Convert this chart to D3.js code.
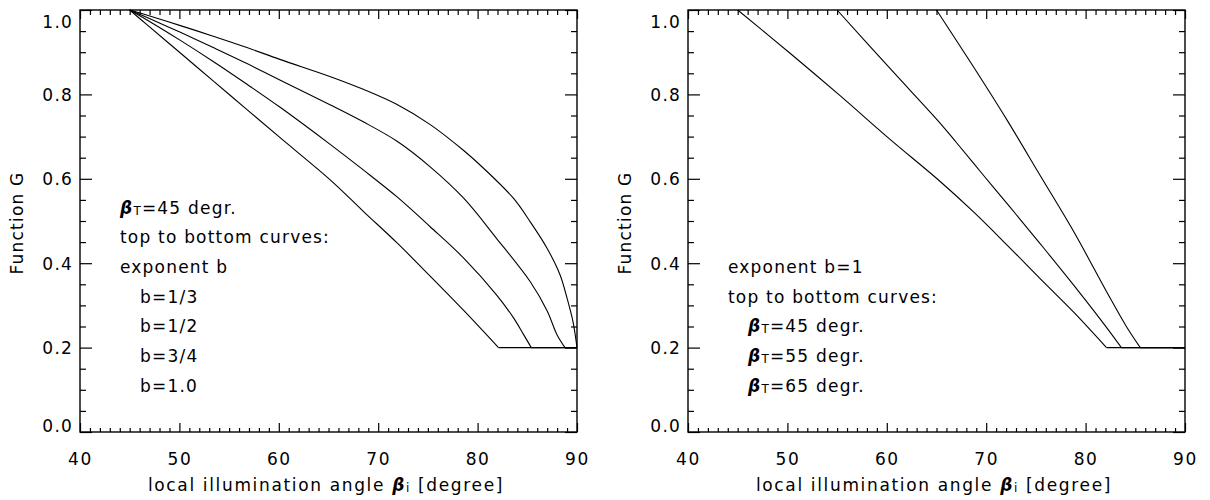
<!DOCTYPE html>
<html><head><meta charset="utf-8">
<script src="https://cdn.jsdelivr.net/npm/d3@7"></script>
<style>
body{margin:0;background:#fff;}
svg{display:block;}
text{font-family:"DejaVu Sans",sans-serif;font-size:17px;fill:#000;}
</style></head><body>
<svg id="chart" width="1210" height="500"></svg>
<script>
// ---------- data ----------
const xTicks = [40, 50, 60, 70, 80, 90];
const xTickLabels = ["40", "50", "60", "70", "80", "90"];
const yTicks = [0.0, 0.2, 0.4, 0.6, 0.8, 1.0];
const yTickLabels = ["0.0", "0.2", "0.4", "0.6", "0.8", "1.0"];
const xMinorStep = 1;
const yMinorStep = 0.05;
const xTitle = ["local illumination angle ", "β", "i", " [degree]"];
const yTitle = "Function G";

// left panel: beta_T = 45 deg, exponent b = 1/3, 1/2, 3/4, 1.0
const leftB13Angle = [45, 46.7, 50.1, 53.4, 56.8, 60.1, 65.2, 68.5, 71.9, 75.2, 78.6, 80.6, 83.6, 85.3, 87.0, 88.3, 89.0, 89.6, 90.0];
const leftB13G     = [1.0, 0.988, 0.963, 0.938, 0.911, 0.883, 0.842, 0.812, 0.776, 0.729, 0.667, 0.625, 0.554, 0.498, 0.435, 0.372, 0.317, 0.261, 0.2];
const leftB12Angle = [45, 46.7, 50.1, 53.4, 56.8, 60.1, 65.2, 68.5, 71.9, 75.2, 78.6, 81.9, 85.3, 87.0, 88.0, 88.8, 90.0];
const leftB12G     = [1.0, 0.983, 0.947, 0.911, 0.873, 0.834, 0.775, 0.735, 0.689, 0.629, 0.554, 0.459, 0.356, 0.287, 0.230, 0.2, 0.2];
const leftB34Angle = [45, 46.7, 50.1, 53.4, 56.8, 60.1, 65.2, 68.5, 71.9, 75.2, 78.6, 81.9, 83.6, 84.6, 85.4, 90.0];
const leftB34G     = [1.0, 0.977, 0.928, 0.878, 0.824, 0.770, 0.681, 0.621, 0.557, 0.487, 0.412, 0.325, 0.271, 0.232, 0.2, 0.2];
const leftB1Angle  = [45, 46.7, 50.1, 53.4, 56.8, 60.1, 65.2, 68.5, 71.9, 75.2, 78.6, 82.1, 90.0];
const leftB1G      = [1.0, 0.966, 0.898, 0.832, 0.764, 0.698, 0.597, 0.523, 0.448, 0.370, 0.288, 0.2, 0.2];

// right panel: exponent b = 1, beta_T = 45, 55, 65 deg
const rightT45Angle = [45, 50.3, 55.3, 60.3, 65.4, 68.7, 72.1, 75.4, 78.8, 82.1, 90.0];
const rightT45G     = [1.0, 0.897, 0.797, 0.694, 0.593, 0.522, 0.443, 0.364, 0.284, 0.2, 0.2];
const rightT55Angle = [55, 60.3, 65.4, 67.0, 69.7, 72.4, 75.4, 78.8, 82.1, 83.6, 90.0];
const rightT55G     = [1.0, 0.862, 0.731, 0.686, 0.609, 0.533, 0.447, 0.348, 0.248, 0.2, 0.2];
const rightT65Angle = [65, 68.7, 72.1, 75.4, 78.8, 82.1, 84.1, 85.5, 90.0];
const rightT65G     = [1.0, 0.866, 0.739, 0.609, 0.475, 0.333, 0.250, 0.2, 0.2];

// annotations: [text, indent level, line index]
const leftNotes = [["βT=45 degr.", 0, 0], ["top to bottom curves:", 0, 1], ["exponent b", 0, 2],
                   ["b=1/3", 1, 3], ["b=1/2", 1, 4], ["b=3/4", 1, 5], ["b=1.0", 1, 6]];
const rightNotes = [["exponent b=1", 0, 2], ["top to bottom curves:", 0, 3],
                    ["βT=45 degr.", 1, 4], ["βT=55 degr.", 1, 5], ["βT=65 degr.", 1, 6]];

// ---------- drawing ----------
const svg = d3.select("#chart");
const plotTop = 10, plotBottom = 432, plotWidth = 497;

function zip(a, b) { return a.map((v, i) => [v, b[i]]); }

function noteText(g, str, x, yBase) {
  const t = g.append("text").attr("x", x).attr("y", yBase).style("letter-spacing", "1.2px");
  if (str.startsWith("β")) {
    t.append("tspan").text("β").style("font-style", "italic").style("font-weight", "bold");
    t.append("tspan").text(str[1]).style("font-size", "12px").attr("dy", 1);
    t.append("tspan").text(str.slice(2)).attr("dy", -1);
  } else {
    t.text(str);
  }
}

function drawPanel(left, series, notes) {
  const g = svg.append("g");
  const x = d3.scaleLinear().domain([40, 90]).range([left, left + plotWidth]);
  const y = d3.scaleLinear().domain([0, 1]).range([plotBottom, plotTop]);
  const xMinor = d3.range(40, 90 + 1e-9, xMinorStep).filter(v => !xTicks.includes(v));
  const yMinor = d3.range(0, 1 + 1e-9, yMinorStep).map(v => +v.toFixed(2)).filter(v => !yTicks.includes(v));

  // bottom
  const gb = g.append("g").attr("transform", `translate(0,${plotBottom})`)
    .call(d3.axisBottom(x).tickValues(xTicks).tickSize(-9).tickSizeOuter(0).tickFormat((d, i) => xTickLabels[i]));
  gb.selectAll("text").attr("y", 33).attr("dy", 0).style("letter-spacing", "1.6px");
  g.append("g").attr("transform", `translate(0,${plotBottom})`)
    .call(d3.axisBottom(x).tickValues(xMinor).tickSize(-4).tickSizeOuter(0).tickFormat(""));
  // top
  g.append("g").attr("transform", `translate(0,${plotTop})`)
    .call(d3.axisTop(x).tickValues(xTicks).tickSize(-9).tickSizeOuter(0).tickFormat(""));
  g.append("g").attr("transform", `translate(0,${plotTop})`)
    .call(d3.axisTop(x).tickValues(xMinor).tickSize(-5).tickSizeOuter(0).tickFormat(""));
  // left
  const gl = g.append("g").attr("transform", `translate(${left},0)`)
    .call(d3.axisLeft(y).tickValues(yTicks).tickSize(-12).tickSizeOuter(0).tickFormat((d, i) => yTickLabels[i]));
  gl.selectAll("text").attr("x", -7)
    .attr("y", d => Math.min(Math.max(y(d), 21), 425) - y(d)).attr("dy", "0.36em")
    .style("letter-spacing", "1.2px");
  g.append("g").attr("transform", `translate(${left},0)`)
    .call(d3.axisLeft(y).tickValues(yMinor).tickSize(-6).tickSizeOuter(0).tickFormat(""));
  // right
  g.append("g").attr("transform", `translate(${left + plotWidth},0)`)
    .call(d3.axisRight(y).tickValues(yTicks).tickSize(-12).tickSizeOuter(0).tickFormat(""));
  g.append("g").attr("transform", `translate(${left + plotWidth},0)`)
    .call(d3.axisRight(y).tickValues(yMinor).tickSize(-6).tickSizeOuter(0).tickFormat(""));

  g.selectAll(".domain").remove();
  g.selectAll(".tick line").attr("stroke", "#000").attr("stroke-width", 1.2);
  g.selectAll(".tick text").attr("fill", "#000").style("font-size", "17px").style("font-family", '"DejaVu Sans",sans-serif');

  g.append("rect").attr("x", left).attr("y", plotTop).attr("width", plotWidth).attr("height", plotBottom - plotTop)
    .attr("fill", "none").attr("stroke", "#000").attr("stroke-width", 1.4);

  // curves: smooth descending part, straight floor part
  const smooth = d3.line().x(d => x(d[0])).y(d => y(d[1])).curve(d3.curveCatmullRom.alpha(0.5));
  const straight = d3.line().x(d => x(d[0])).y(d => y(d[1]));
  series.forEach(s => {
    const minG = d3.min(s, d => d[1]);
    const k = s.findIndex(d => d[1] === minG);
    g.append("path").datum(s.slice(0, k + 1)).attr("d", smooth)
      .attr("fill", "none").attr("stroke", "#000").attr("stroke-width", 1.1);
    if (k < s.length - 1) {
      g.append("path").datum(s.slice(k)).attr("d", straight)
        .attr("fill", "none").attr("stroke", "#000").attr("stroke-width", 1.1);
    }
  });

  // axis titles
  const xt = g.append("text").attr("x", left + 246).attr("y", 491).attr("text-anchor", "middle").style("letter-spacing", "1.65px");
  xt.append("tspan").text(xTitle[0]);
  xt.append("tspan").text(xTitle[1]).style("font-style", "italic").style("font-weight", "bold");
  xt.append("tspan").text(xTitle[2]).style("font-size", "12px").attr("dy", 1);
  xt.append("tspan").text(xTitle[3]).attr("dy", -1);

  g.append("text").attr("transform", `translate(${left - 57},223) rotate(-90)`).attr("text-anchor", "middle")
    .style("letter-spacing", "1.2px").text(yTitle);

  // annotations
  notes.forEach(n => {
    noteText(g, n[0], left + 40 + n[1] * 20, 213.5 + n[2] * 29.7);
  });
}

drawPanel(80, [zip(leftB13Angle, leftB13G), zip(leftB12Angle, leftB12G), zip(leftB34Angle, leftB34G), zip(leftB1Angle, leftB1G)], leftNotes);
drawPanel(688, [zip(rightT45Angle, rightT45G), zip(rightT55Angle, rightT55G), zip(rightT65Angle, rightT65G)], rightNotes);
</script>
</body></html>
